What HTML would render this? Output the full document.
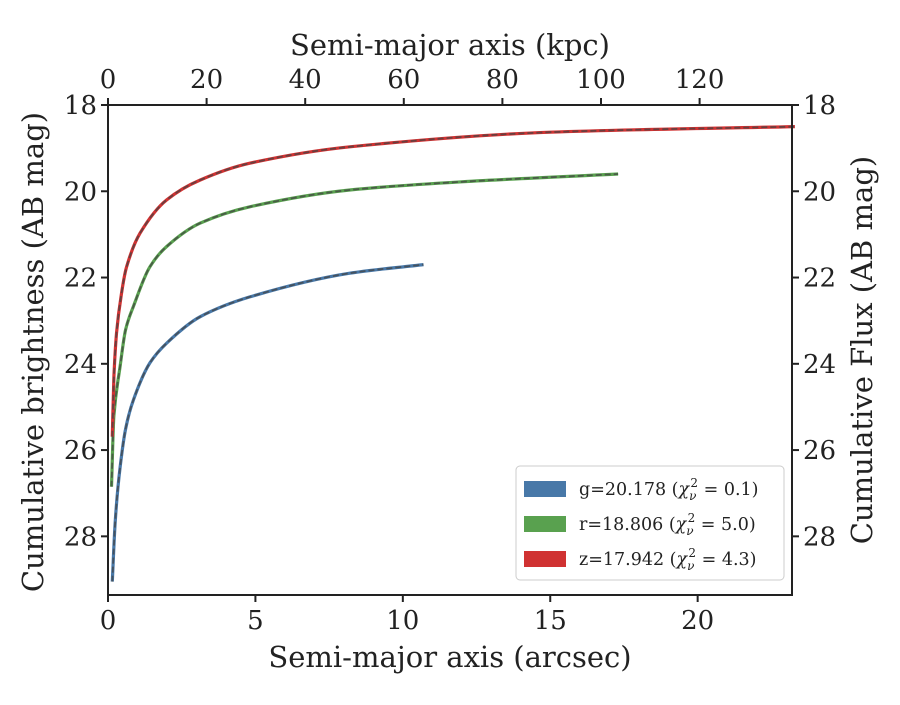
<!DOCTYPE html>
<html><head><meta charset="utf-8"><style>
body{margin:0;background:#fff;}
text{font-family:"DejaVu Serif","Liberation Serif",serif;fill:#222;}
</style></head><body>
<svg id="chart" width="900" height="700">
<g id="plot"></g>
</svg>
<script>
const gX=[0.146,0.25,0.41,0.6,0.86,1.42,1.99,3.12,4.81,8.2,10.7];
const gY=[29.05,27.6,26.4,25.5,24.84,23.98,23.52,22.91,22.45,21.9,21.7];
const rX=[0.12,0.2,0.41,0.6,0.86,1.42,1.99,3.12,4.81,8.2,12,17.3];
const rY=[26.85,25.2,24.06,23.2,22.67,21.75,21.28,20.74,20.36,19.97,19.78,19.6];
const zX=[0.146,0.2,0.29,0.45,0.63,1.09,1.99,3.12,4.81,8.2,15,23.3];
const zY=[25.69,24.3,23.29,22.4,21.75,20.97,20.2,19.74,19.35,18.97,18.63,18.5];
const xTicks=[0,5,10,15,20];
const topTicks=[0,20,40,60,80,100,120];
const yTicks=[18,20,22,24,26,28];
const legendLabels=["g=20.178","r=18.806","z=17.942"];
const chi=["0.1","5.0","4.3"];
const L=108,R=792,T=105,B=595;
const sx=v=>L+v*(R-L)/23.2;
const sy=v=>T+(v-18)*(B-T)/11.36;
const st=v=>L+v*4.93;
const ns="http://www.w3.org/2000/svg";
const svg=document.getElementById('chart');
function mk(tag,attrs,txt){const e=document.createElementNS(ns,tag);for(const k in attrs)e.setAttribute(k,attrs[k]);if(txt!==undefined)e.textContent=txt;svg.appendChild(e);return e;}
function path(xs,ys){
 const px=xs.map(sx),py=ys.map(sy),n=px.length;
 const d=[],m=[];
 for(let i=0;i<n-1;i++)d.push((py[i+1]-py[i])/(px[i+1]-px[i]));
 m[0]=d[0];m[n-1]=d[n-2];
 for(let i=1;i<n-1;i++)m[i]=(d[i-1]*d[i]<=0)?0:2/(1/d[i-1]+1/d[i]);
 let s='M'+px[0].toFixed(1)+','+py[0].toFixed(1);
 for(let i=0;i<n-1;i++){const h=(px[i+1]-px[i])/3;
  s+=' C'+(px[i]+h).toFixed(1)+','+(py[i]+m[i]*h).toFixed(1)+' '+(px[i+1]-h).toFixed(1)+','+(py[i+1]-m[i+1]*h).toFixed(1)+' '+px[i+1].toFixed(1)+','+py[i+1].toFixed(1);}
 return s;}
const series=[[gX,gY,'#4878a8','g'],[rX,rY,'#59a14f','r'],[zX,zY,'#d03232','z']];
series.forEach(s=>{
 let p=mk('path',{d:path(s[0],s[1]),fill:'none',stroke:s[2],'stroke-width':3.2});
 
 
 let d=mk('path',{d:path(s[0],s[1]),fill:'none',stroke:'#444','stroke-width':1.8,'stroke-dasharray':'6,3',opacity:0.75});
 
 
});
let fr=mk('rect',{x:L,y:T,width:R-L,height:B-T,fill:'none',stroke:'#222','stroke-width':2});


xTicks.forEach(v=>{
 mk('line',{x1:sx(v),x2:sx(v),y1:B,y2:B+7,stroke:'#222','stroke-width':2});
 let t=mk('text',{x:sx(v),y:B+34,'text-anchor':'middle','font-size':26},v);
 
 
});
topTicks.forEach(v=>{
 mk('line',{x1:st(v),x2:st(v),y1:T,y2:T-7,stroke:'#222','stroke-width':2});
 let t=mk('text',{x:st(v),y:T-17,'text-anchor':'middle','font-size':26},v);
 
 
});
yTicks.forEach(v=>{
 mk('line',{x1:L,x2:L-7,y1:sy(v),y2:sy(v),stroke:'#222','stroke-width':2});
 mk('line',{x1:R,x2:R+7,y1:sy(v),y2:sy(v),stroke:'#222','stroke-width':2});
 let t=mk('text',{x:L-11,y:sy(v)+9,'text-anchor':'end','font-size':26},v);
 
 
 let t2=mk('text',{x:R+11,y:sy(v)+9,'text-anchor':'start','font-size':26},v);
 
 
});
let a=mk('text',{x:450,y:667,'text-anchor':'middle','font-size':29},'Semi-major axis (arcsec)');

a=mk('text',{x:450,y:55,'text-anchor':'middle','font-size':29},'Semi-major axis (kpc)');

a=mk('text',{x:43,y:352,'text-anchor':'middle','font-size':29,transform:'rotate(-90 43 352)'},'Cumulative brightness (AB mag)');

a=mk('text',{x:872,y:350,'text-anchor':'middle','font-size':29,transform:'rotate(-90 872 350)'},'Cumulative Flux (AB mag)');

let lb=mk('rect',{x:516,y:466,width:268,height:114,rx:4,fill:'#fff',stroke:'#ccc','stroke-width':1});

series.forEach((s,i)=>{
 let y=489+i*35;
 let sw=mk('rect',{x:524,y:y-8,width:42,height:16,fill:s[2]});
 
 
 let t=mk('text',{x:579,y:y+6,'font-size':17.5});
 
 
 t.innerHTML=legendLabels[i]+' (<tspan font-style="italic">χ</tspan><tspan font-size="12" dy="5" font-style="italic">ν</tspan><tspan font-size="12" dy="-13" dx="-6">2</tspan><tspan dy="8"> = '+chi[i]+')</tspan>';
});
</script>
</body></html>
